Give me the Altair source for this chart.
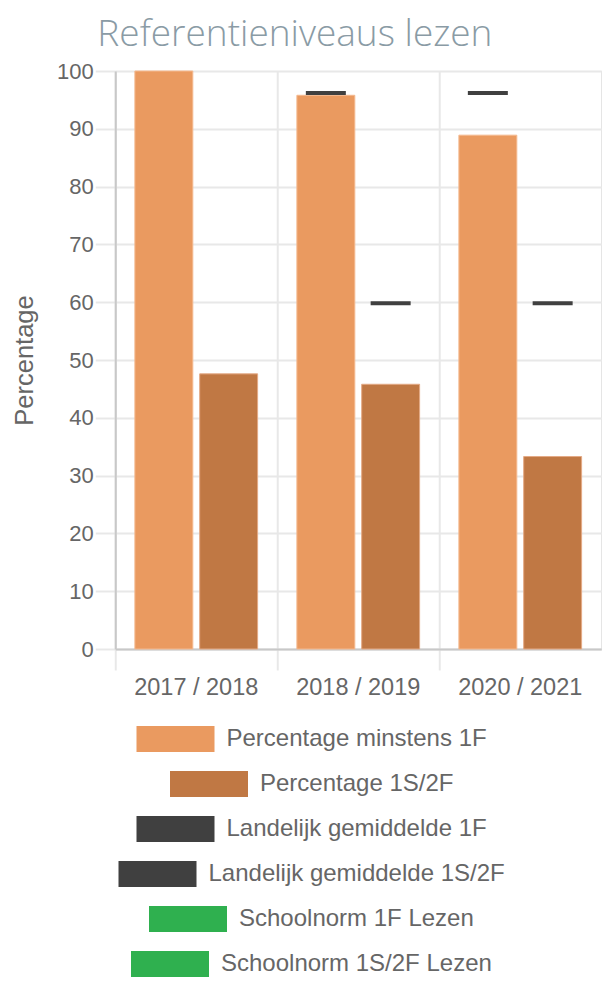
import altair as alt
import pandas as pd

# ---- data ----
years = ["2017 / 2018", "2018 / 2019", "2020 / 2021"]
pct_min_1f = [100, 95.8, 88.9]
pct_1s2f = [47.6, 45.8, 33.3]
land_1f = [None, 96.2, 96.2]
land_1s2f = [None, 59.8, 59.8]

series_labels = [
    "Percentage minstens 1F",
    "Percentage 1S/2F",
    "Landelijk gemiddelde 1F",
    "Landelijk gemiddelde 1S/2F",
    "Schoolnorm 1F Lezen",
    "Schoolnorm 1S/2F Lezen",
]
series_colors = ["#ea9a60", "#c07844", "#404040", "#404040", "#2fb04f", "#2fb04f"]
bar_edge_colors = ["#f4b98f", "#e4aa86"]
positions = ["1F", "2F"]

FONT = "Liberation Sans"
TEXT = "#666666"
GRID = "#e8e8e8"
AXISLINE = "#c8c8c8"

bars = pd.DataFrame({
    "jaar": years * 2,
    "pos": [positions[0]] * 3 + [positions[1]] * 3,
    "serie": [series_labels[0]] * 3 + [series_labels[1]] * 3,
    "waarde": pct_min_1f + pct_1s2f,
})
marks = pd.DataFrame({
    "jaar": years * 2,
    "pos": [positions[0]] * 3 + [positions[1]] * 3,
    "waarde": land_1f + land_1s2f,
}).dropna()

W, H = 486, 578

x_enc = alt.X(
    "jaar:N", sort=years, title=None,
    scale=alt.Scale(paddingInner=0, paddingOuter=0),
    axis=alt.Axis(
        bandPosition=0, grid=True, gridColor=GRID, gridWidth=2,
        tickSize=21, tickColor=GRID, tickWidth=2, domainColor=AXISLINE, domainWidth=2,
        labelFont=FONT, labelFontSize=23.5, labelColor=TEXT, labelPadding=5, labelAngle=0,
    ),
)
xo_enc = alt.XOffset(
    "pos:N", sort=positions,
    scale=alt.Scale(domain=positions, paddingInner=0.106, paddingOuter=0.303),
)
y_enc = alt.Y(
    "waarde:Q", title="Percentage",
    scale=alt.Scale(domain=[0, 100], nice=False),
    axis=alt.Axis(
        values=list(range(0, 101, 10)), grid=True, gridColor=GRID, gridWidth=2,
        tickSize=20, tickColor=GRID, tickWidth=2, domainColor=AXISLINE, domainWidth=2,
        labelFont=FONT, labelFontSize=22, labelColor=TEXT, labelPadding=2,
        titleFont=FONT, titleFontSize=25.5, titleFontWeight="normal", titleColor=TEXT,
        titlePadding=19,
    ),
)

bar_layer = alt.Chart(bars).mark_bar(strokeWidth=1).encode(
    x=x_enc, xOffset=xo_enc, y=y_enc,
    color=alt.Color("serie:N", scale=alt.Scale(domain=series_labels[:2], range=series_colors[:2]), legend=None),
    stroke=alt.Stroke("serie:N", scale=alt.Scale(domain=series_labels[:2], range=bar_edge_colors), legend=None),
)
tick_layer = alt.Chart(marks).mark_tick(thickness=4, size=40, color="#404040", opacity=1).encode(
    x=alt.X("jaar:N", sort=years),
    xOffset=alt.XOffset("pos:N", sort=positions),
    y=alt.Y("waarde:Q"),
)
main = alt.layer(bar_layer, tick_layer).properties(width=W, height=H)

# invisible trailing no-break spaces (closed by a zero-width space so they are not
# trimmed) widen each legend row to the right, so its visible part sits left of centre
PAD = "\u00a0" * 14 + "\u200b"

rows = []
for i, (lab, col) in enumerate(zip(series_labels, series_colors)):
    df = pd.DataFrame({"serie": [lab]})
    r = alt.Chart(df).transform_filter("false").mark_bar().encode(
        color=alt.Color(
            "serie:N",
            scale=alt.Scale(domain=[lab], range=[col]),
            legend=alt.Legend(
                title=None, orient="bottom", offset=8 if i == 0 else 0, padding=0,
                symbolType="M-1,-1H5V1H-1Z", symbolSize=676, symbolStrokeWidth=0,
                labelFont=FONT, labelFontSize=24, labelColor=TEXT, labelOffset=64,
                labelLimit=0, labelExpr=f"datum.label + '{PAD}'",
            ),
        )
    ).properties(width=1, height=1)
    rows.append(r)

chart = (
    alt.vconcat(main, *rows, center=True, spacing=18)
    .resolve_scale(color="independent")
    .properties(
        title=alt.Title(
            "Referentieniveaus lezen", font="Open Sans", fontWeight=300, fontSize=37,
            color="#8a9ba5", anchor="middle", offset=6, dx=-12,
        ),
        padding={"left": 4, "top": 7, "right": 0, "bottom": 0},
    )
    .configure_view(stroke=None)
    .configure(font=FONT)
)

chart.save("out.html", embed_options={"renderer": "svg", "actions": False})
